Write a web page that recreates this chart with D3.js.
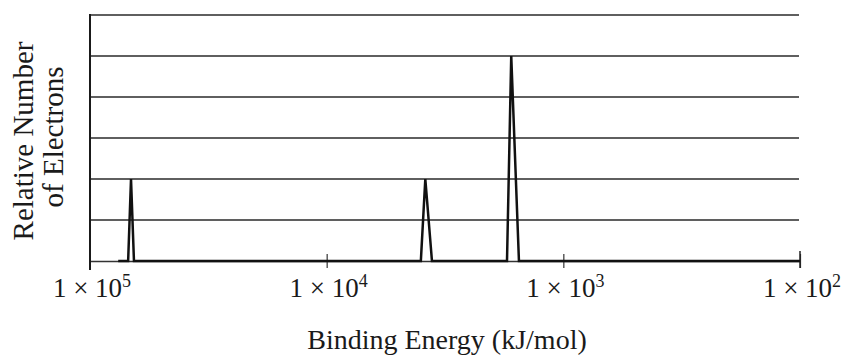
<!DOCTYPE html>
<html>
<head>
<meta charset="utf-8">
<script src="https://cdn.jsdelivr.net/npm/d3@7"></script>
<style>
  body { margin: 0; background: #fff; }
  text { font-family: "Liberation Serif", "DejaVu Serif", serif; fill: #1a1a1a; }
</style>
</head>
<body>
<div id="chart"></div>
<script>
// spectrum: binding energy (kJ/mol) vs relative number of electrons
var energy = [76000, 69000, 67100, 65200, 4000, 3830, 3590, 1730, 1660, 1540, 100];
var count  = [0, 0, 2, 0, 0, 2, 0, 0, 5, 0, 0];
var xTicks = [1e5, 1e4, 1e3, 1e2];
var xExp   = ["5", "4", "3", "2"];
var yGrid  = [1, 2, 3, 4, 5, 6];

var width = 847, height = 356;

var svg = d3.select("#chart").append("svg")
    .attr("width", width)
    .attr("height", height);

var x = d3.scaleLog().domain([1e5, 1e2]).range([90, 800]);
var y = d3.scaleLinear().domain([0, 6]).range([261, 15]);

// horizontal grid lines
svg.selectAll(".grid")
    .data(yGrid)
    .enter().append("line")
    .attr("class", "grid")
    .attr("x1", x(1e5))
    .attr("x2", x(1e2) - 1)
    .attr("y1", function (d) { return y(d); })
    .attr("y2", function (d) { return y(d); })
    .style("stroke", "#2a2a2a")
    .style("stroke-width", 1.5);

// bottom axis
var xAxis = d3.axisBottom(x)
    .tickValues(xTicks.slice(1))
    .tickSizeInner(7)
    .tickSizeOuter(0)
    .tickFormat("");

var gx = svg.append("g")
    .attr("transform", "translate(0," + y(0) + ")")
    .call(xAxis);
gx.select(".domain").style("stroke", "#333").style("stroke-width", 1.5);
gx.selectAll(".tick line")
    .attr("y1", -7)
    .style("stroke", "#333")
    .style("stroke-width", 1.2);

// end tick at 10^2
svg.append("line")
    .attr("x1", x(1e2)).attr("x2", x(1e2))
    .attr("y1", y(0) - 10).attr("y2", y(0) + 7)
    .style("stroke", "#222")
    .style("stroke-width", 1.5);

// left axis line
svg.append("line")
    .attr("x1", x(1e5)).attr("x2", x(1e5))
    .attr("y1", y(6) - 1).attr("y2", y(0) + 9)
    .style("stroke", "#1a1a1a")
    .style("stroke-width", 2);

// tick labels 1 x 10^n
var labels = svg.selectAll(".xlab")
    .data(xTicks)
    .enter().append("text")
    .attr("class", "xlab")
    .attr("x", function (d) { return x(d) + 2; })
    .attr("y", 297)
    .style("text-anchor", "middle")
    .style("font-size", "27px");
labels.append("tspan").text("1 \u00d7 10");
labels.append("tspan")
    .attr("dy", -10)
    .style("font-size", "18px")
    .text(function (d, i) { return xExp[i]; });

// spectrum line
var pts = energy.map(function (e, i) { return [e, count[i]]; });
var line = d3.line()
    .x(function (d) { return x(d[0]); })
    .y(function (d) { return y(d[1]); });

svg.append("path")
    .datum(pts)
    .attr("d", line)
    .style("fill", "none")
    .style("stroke", "#111")
    .style("stroke-width", 2.5)
    .style("stroke-linejoin", "miter");

// axis titles
svg.append("text")
    .attr("transform", "translate(33,141) rotate(-90)")
    .style("text-anchor", "middle")
    .style("font-size", "29px")
    .text("Relative Number");
svg.append("text")
    .attr("transform", "translate(63,137) rotate(-90)")
    .style("text-anchor", "middle")
    .style("font-size", "29px")
    .text("of Electrons");

svg.append("text")
    .attr("x", 447)
    .attr("y", 349)
    .style("text-anchor", "middle")
    .style("font-size", "28px")
    .text("Binding Energy (kJ/mol)");
</script>
</body>
</html>
